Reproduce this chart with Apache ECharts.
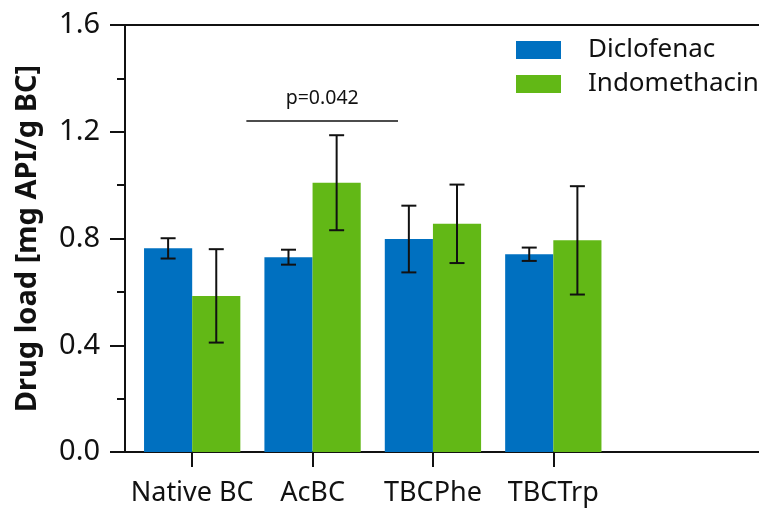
<!DOCTYPE html>
<html>
<head>
<meta charset="utf-8">
<script src="https://cdn.jsdelivr.net/npm/echarts@6/dist/echarts.min.js"></script>
<style>
  html, body { margin: 0; padding: 0; background: #fff; }
  #chart { width: 759px; height: 510px; }
</style>
</head>
<body>
<div id="chart"></div>
<script>
// data
const categories = ['Native BC', 'AcBC', 'TBCPhe', 'TBCTrp']
const diclofenac = [0.763, 0.730, 0.798, 0.741]
const diclofenacErr = [0.038, 0.028, 0.125, 0.025]
const indomethacin = [0.585, 1.009, 0.855, 0.793]
const indomethacinErr = [0.175, 0.178, 0.147, 0.203]
const yTicks = [0, 0.4, 0.8, 1.2, 1.6]
// significance bracket: between groups, at this level
const sigPair = [0, 1]
const sigLevel = 1.24
const sigText = 'p=0.042'

const FONT = 'Noto Sans'
const BLUE = '#0070C0'
const GREEN = '#62B816'
const INK = '#111'

const chart = echarts.init(document.getElementById('chart'))

// error bar items: [category, mean, err, which series]
const errData = []
diclofenac.forEach((v, i) => errData.push([i, v, diclofenacErr[i], 0]))
indomethacin.forEach((v, i) => errData.push([i, v, indomethacinErr[i], 1]))

const renderErr = (params, api) => {
  const idx = api.value(0)
  const v = api.value(1)
  const e = api.value(2)
  const s = api.value(3)
  const band = api.size([1, 0])[0]
  const x = api.coord([idx, v])[0] + (s === 0 ? -1 : 1) * band * 0.2
  const top = api.coord([idx, v + e])[1]
  const bot = api.coord([idx, v - e])[1]
  const cap = 7.5
  const st = { stroke: INK, lineWidth: 2 }
  return {
    type: 'group',
    children: [
      { type: 'line', shape: { x1: x, y1: top, x2: x, y2: bot }, style: st },
      { type: 'line', shape: { x1: x - cap, y1: top, x2: x + cap, y2: top }, style: st },
      { type: 'line', shape: { x1: x - cap, y1: bot, x2: x + cap, y2: bot }, style: st },
    ],
  }
}

const renderSig = (params, api) => {
  const band = api.size([1, 0])[0]
  const a = api.coord([api.value(0), api.value(2)])
  const b = api.coord([api.value(1), api.value(2)])
  const x1 = a[0] + band * 0.45
  const x2 = b[0] + band * 0.71
  return {
    type: 'group',
    children: [
      { type: 'line', shape: { x1: x1, y1: a[1], x2: x2, y2: a[1] }, style: { stroke: INK, lineWidth: 1.5 } },
      {
        type: 'text',
        style: {
          x: (x1 + x2) / 2, y: a[1] - 13, text: sigText,
          align: 'center', verticalAlign: 'bottom',
          fontFamily: FONT, fontSize: 19.5, fill: INK,
        },
      },
    ],
  }
}

const option = {
  animation: false,
  backgroundColor: '#fff',
  textStyle: { fontFamily: FONT },
  legend: {
    orient: 'vertical',
    left: 516,
    top: 37,
    padding: 0,
    itemWidth: 45,
    itemHeight: 18,
    itemGap: 8,
    icon: 'rect',
    textStyle: { fontFamily: FONT, fontSize: 26, lineHeight: 18, color: INK, padding: [0, 0, 0, 22] },
    data: ['Diclofenac', 'Indomethacin'],
  },
  grid: [
    // bars
    { left: 132, width: 481.5, top: 25, height: 427 },
    // frame / axes
    { left: 125, right: 0, top: 25, height: 427 },
  ],
  xAxis: [
    {
      type: 'category',
      gridIndex: 0,
      data: categories,
      axisLine: { show: false },
      axisTick: { show: true, alignWithLabel: true, length: 15, lineStyle: { color: INK, width: 2 } },
      axisLabel: { fontFamily: FONT, fontSize: 27, color: INK, margin: 28, interval: 0 },
      splitLine: { show: false },
    },
    {
      type: 'value',
      gridIndex: 1,
      min: 0,
      max: 1,
      axisLine: { show: true, onZero: false, lineStyle: { color: INK, width: 2 } },
      axisTick: { show: false },
      axisLabel: { show: false },
      splitLine: { show: false },
    },
    {
      type: 'value',
      gridIndex: 1,
      position: 'top',
      min: 0,
      max: 1,
      axisLine: { show: true, onZero: false, lineStyle: { color: INK, width: 2 } },
      axisTick: { show: false },
      axisLabel: { show: false },
      splitLine: { show: false },
    },
  ],
  yAxis: [
    {
      type: 'value',
      gridIndex: 0,
      min: yTicks[0],
      max: yTicks[yTicks.length - 1],
      show: false,
    },
    {
      type: 'value',
      gridIndex: 1,
      min: yTicks[0],
      max: yTicks[yTicks.length - 1],
      interval: yTicks[1] - yTicks[0],
      name: 'Drug load [mg API/g BC]',
      nameLocation: 'middle',
      nameGap: 83,
      nameTextStyle: { fontFamily: FONT, fontSize: 29, fontWeight: 'bold', color: INK },
      axisLine: { show: true, onZero: false, lineStyle: { color: INK, width: 2 } },
      axisTick: { show: true, length: 15, lineStyle: { color: INK, width: 2 } },
      minorTick: { show: true, splitNumber: 2, length: 8, lineStyle: { color: INK, width: 2 } },
      axisLabel: {
        fontFamily: FONT, fontSize: 29, color: INK, margin: 25,
        formatter: (v) => v.toFixed(1),
      },
      splitLine: { show: false },
    },
  ],
  series: [
    {
      name: 'Diclofenac',
      type: 'bar',
      xAxisIndex: 0,
      yAxisIndex: 0,
      data: diclofenac,
      barGap: 0,
      barCategoryGap: '20%',
      itemStyle: { color: BLUE },
    },
    {
      name: 'Indomethacin',
      type: 'bar',
      xAxisIndex: 0,
      yAxisIndex: 0,
      data: indomethacin,
      barGap: 0,
      barCategoryGap: '20%',
      itemStyle: { color: GREEN },
    },
    {
      type: 'custom',
      xAxisIndex: 0,
      yAxisIndex: 0,
      z: 10,
      data: errData,
      encode: { x: 0, y: 1 },
      renderItem: renderErr,
      silent: true,
    },
    {
      type: 'custom',
      xAxisIndex: 0,
      yAxisIndex: 0,
      z: 10,
      data: [[sigPair[0], sigPair[1], sigLevel]],
      encode: { x: 0, y: 2 },
      renderItem: renderSig,
      silent: true,
    },
  ],
}

chart.setOption(option)
</script>
</body>
</html>
